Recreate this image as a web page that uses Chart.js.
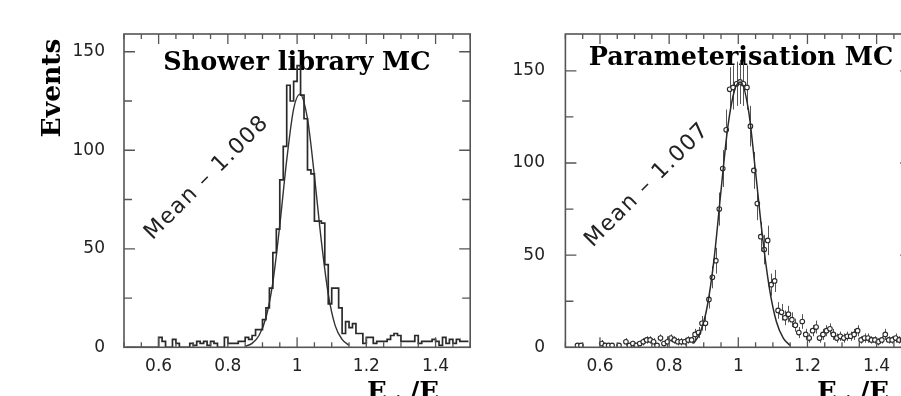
<!DOCTYPE html>
<html><head><meta charset="utf-8">
<script src="https://cdn.jsdelivr.net/npm/chart.js@4.4.1/dist/chart.umd.min.js"></script>
<style>
html,body{margin:0;padding:0;background:#fff;width:901px;height:396px;overflow:hidden;position:relative}
#l{position:absolute;left:0;top:0;width:480px;height:396px}
#r{position:absolute;left:470px;top:0;width:450px;height:396px}
</style></head><body>
<div id="l"><canvas id="cl"></canvas></div>
<div id="r"><canvas id="cr"></canvas></div>
<script>
// ---- data ----
const binCenters = [
0.505,0.515,0.525,0.535,0.545,0.555,0.565,0.575,0.585,0.595,
0.605,0.615,0.625,0.635,0.645,0.655,0.665,0.675,0.685,0.695,
0.705,0.715,0.725,0.735,0.745,0.755,0.765,0.775,0.785,0.795,
0.805,0.815,0.825,0.835,0.845,0.855,0.865,0.875,0.885,0.895,
0.905,0.915,0.925,0.935,0.945,0.955,0.965,0.975,0.985,0.995,
1.005,1.015,1.025,1.035,1.045,1.055,1.065,1.075,1.085,1.095,
1.105,1.115,1.125,1.135,1.145,1.155,1.165,1.175,1.185,1.195,
1.205,1.215,1.225,1.235,1.245,1.255,1.265,1.275,1.285,1.295,
1.305,1.315,1.325,1.335,1.345,1.355,1.365,1.375,1.385,1.395,
1.405,1.415,1.425,1.435,1.445,1.455,1.465,1.475,1.485,1.495];

const showerCounts = [
0,0,0,0,0,0,0,0,0,0,
5,3,0,0,4,2,0,0,0,2,
1,3,2,3,1,3,2,0,0,5,
2,2,2,3,3,5,4,6,9,9,
14,20,30,48,60,85,102,133,125,135,
143,128,116,90,88,64,64,63,42,22,
30,30,20,7,13,10,12,7,7,2,
5,5,2,3,3,3,4,6,7,6,
3,3,3,3,6,2,3,3,3,4,
3,1,5,2,4,2,4,3,3,3];

const paramCounts = [
0,0,0,1,1,0,0,0,0,0,
2,1,1,1,0,1,0,3,1,2,
1,2,3,4,4,3,1,5,2,3,
5,4,3,3,3,4,4,7,8,13,
13,26,38,47,75,97,118,140,141,143,
144,143,141,120,96,78,60,53,58,34,
36,20,19,16,18,15,12,8,14,7,
5,9,11,5,7,9,10,7,5,6,
5,6,6,7,9,4,5,5,4,4,
3,4,7,4,4,5,4,4,3,3];

const paramErrors = [
0,0,0,1,1,0,0,0,0,0,
2,1,1,1,0,1,0,2,1,1.5,
1,1.5,2,2,2,2,1,2,1.5,3,
2,2,2,2,2,2,2,3,3,4,
4,5,6,7,9,10,11,12,12,12,
12,12,12,11,10,9,8,8,8,6,
6,4.5,4.5,4,4.5,4,3.5,3,4,3,
2.5,3,3.5,2.5,3,3,3,3,2.5,2.5,
2.5,2.5,2.5,3,3,2,2.5,2.5,2,2,
2,2,3,2,2,2.5,2,2,2,2];

const showerFitX = [0.85,0.87,0.89,0.91,0.93,0.95,0.97,0.99,1.008,1.03,1.05,1.07,1.09,1.11,1.13,1.15];
const showerFitY = [0.5,2,6,15,33,62,95,121,128.5,116,87,54,27,11,4,1];
const paramFitX = [0.87,0.89,0.91,0.93,0.95,0.97,0.99,1.007,1.03,1.05,1.07,1.09,1.11,1.13,1.15];
const paramFitY = [2,8,22,48,85,120,140,144,128,95,60,32,14,5,1];

const xTickValues = [0.6,0.8,1.0,1.2,1.4];
const xTickLabels = ['0.6','0.8','1','1.2','1.4'];
const xMinorTicks = [0.5,0.55,0.6,0.65,0.7,0.75,0.8,0.85,0.9,0.95,1.0,1.05,1.1,1.15,1.2,1.25,1.3,1.35,1.4,1.45,1.5];
const yTickValues = [0,50,100,150];
const yTickLabels = ['0','50','100','150'];
const yMinorTicks = [0,25,50,75,100,125,150];

const panelTitles = ['Shower library MC','Parameterisation MC'];
const meanLabels = ['Mean \u2013 1.008','Mean \u2013 1.007'];
const yAxisTitle = 'Events';

// ---- plugins ----
const framePlugin = {
  id: 'frame',
  beforeDatasetsDraw(chart, args, o) {
    const {ctx, scales:{x, y}} = chart;
    ctx.save();
    // title
    ctx.fillStyle = '#000';
    ctx.font = 'bold 25.5px "DejaVu Serif"';
    ctx.textAlign = 'center';
    ctx.textBaseline = 'alphabetic';
    ctx.fillText(o.title, o.titleX, o.titleY);
    // y title
    if (o.yTitle) {
      ctx.save();
      ctx.translate(60, 88);
      ctx.rotate(-Math.PI/2);
      ctx.font = 'bold 26.5px "DejaVu Serif"';
      ctx.fillText(o.yTitle, 0, 0);
      ctx.restore();
    }
    // x title (cut at bottom)
    ctx.textAlign = 'left';
    let px = o.xTitleX;
    ctx.font = 'bold 26px "DejaVu Serif"';
    ctx.fillText('E', px, 400); px += ctx.measureText('E').width;
    ctx.font = 'bold 15px "DejaVu Serif"';
    ctx.fillText('vis', px, 406); px += ctx.measureText('vis').width;
    ctx.font = 'bold 26px "DejaVu Serif"';
    ctx.fillText('/E', px, 400);
    // mean label
    ctx.save();
    ctx.translate(x.getPixelForValue(o.meanX), y.getPixelForValue(o.meanY));
    ctx.rotate(-Math.PI/4);
    ctx.font = '22px "DejaVu Sans"';
    try { ctx.letterSpacing = '1.5px'; } catch(e) {}
    ctx.fillStyle = '#222';
    ctx.textAlign = 'center';
    ctx.textBaseline = 'middle';
    ctx.fillText(o.mean, 0, 0);
    ctx.restore();
    // error bars
    if (o.errors) {
      ctx.strokeStyle = '#555';
      ctx.lineWidth = 1;
      ctx.beginPath();
      binCenters.forEach((c, i) => {
        const v = o.values[i], e = o.errors[i];
        if (!v || !e) return;
        const xp = Math.round(x.getPixelForValue(c)) + 0.5;
        ctx.moveTo(xp, y.getPixelForValue(Math.max(0, v - e)));
        ctx.lineTo(xp, y.getPixelForValue(Math.min(y.max, v + e)));
      });
      ctx.stroke();
    }
    ctx.restore();
  },
  afterDatasetsDraw(chart) {
    const {ctx, chartArea:a, scales:{x, y}} = chart;
    ctx.save();
    ctx.strokeStyle = '#555';
    ctx.lineWidth = 1.3;
    ctx.beginPath();
    xMinorTicks.forEach(v => {
      const major = xTickValues.some(t => Math.abs(t - v) < 1e-6);
      const L = major ? 10 : 5;
      const p = x.getPixelForValue(v);
      ctx.moveTo(p, a.bottom); ctx.lineTo(p, a.bottom - L);
      ctx.moveTo(p, a.top); ctx.lineTo(p, a.top + L);
    });
    yMinorTicks.forEach(v => {
      const major = yTickValues.includes(v);
      const L = major ? 11 : 8;
      const p = y.getPixelForValue(v);
      ctx.moveTo(a.left, p); ctx.lineTo(a.left + L, p);
      ctx.moveTo(a.right, p); ctx.lineTo(a.right - L, p);
    });
    ctx.stroke();
    ctx.lineWidth = 1.6;
    ctx.strokeRect(a.left, a.top, a.right - a.left, a.bottom - a.top);
    ctx.restore();
  }
};

function labelFor(values, labels) {
  return v => { const i = values.findIndex(t => Math.abs(t - v) < 1e-6); return i >= 0 ? labels[i] : ''; };
}

function makeChart(id, cfg) {
  return new Chart(document.getElementById(id), {
    type: 'line',
    data: { datasets: cfg.datasets },
    options: {
      responsive: true, maintainAspectRatio: false, animation: false,
      layout: { padding: { left: 0, right: cfg.padRight, top: 34, bottom: 0 } },
      plugins: { legend: { display: false }, tooltip: { enabled: false }, frame: cfg.frame },
      scales: {
        x: {
          type: 'linear', min: 0.5, max: 1.5,
          grid: { display: false, drawTicks: false }, border: { display: false },
          afterFit: s => { s.height = 48.7; },
          afterBuildTicks: s => { s.ticks = xTickValues.map(v => ({ value: v })); },
          ticks: { autoSkip: false, maxRotation: 0, padding: 9, color: '#222',
                   font: { family: 'DejaVu Sans', size: 17 },
                   callback: labelFor(xTickValues, xTickLabels) }
        },
        y: {
          type: 'linear', min: 0, max: cfg.ymax,
          grid: { display: false, drawTicks: false }, border: { display: false },
          afterFit: s => { s.width = cfg.yWidth; },
          afterBuildTicks: s => { s.ticks = yTickValues.map(v => ({ value: v })); },
          ticks: { autoSkip: false, padding: cfg.yPad, color: '#222',
                   font: { family: 'DejaVu Sans', size: 17 },
                   callback: labelFor(yTickValues, yTickLabels) }
        }
      }
    },
    plugins: [framePlugin]
  });
}

makeChart('cl', {
  padRight: 9.8, ymax: 159, yWidth: 124, yPad: 19,
  frame: { title: panelTitles[0], titleX: 297, titleY: 70, yTitle: yAxisTitle,
           xTitleX: 367, mean: meanLabels[0], meanX: 0.74, meanY: 86 },
  datasets: [
    { data: binCenters.map((c, i) => ({ x: c, y: showerCounts[i] })), stepped: 'middle',
      borderColor: '#2a2a2a', borderWidth: 1.7, pointRadius: 0, fill: false },
    { data: showerFitX.map((c, i) => ({ x: c, y: showerFitY[i] })), cubicInterpolationMode: 'monotone',
      borderColor: '#333', borderWidth: 1.4, pointRadius: 0, fill: false }
  ]
});

makeChart('cr', {
  padRight: 8.8, ymax: 170, yWidth: 95.4, yPad: 20.4,
  frame: { title: panelTitles[1], titleX: 271, titleY: 65, yTitle: null,
           xTitleX: 347, mean: meanLabels[1], meanX: 0.737, meanY: 88,
           values: paramCounts, errors: paramErrors },
  datasets: [
    { data: paramFitX.map((c, i) => ({ x: c, y: paramFitY[i] })), cubicInterpolationMode: 'monotone',
      borderColor: '#2a2a2a', borderWidth: 1.5, pointRadius: 0, fill: false },
    { data: binCenters.map((c, i) => ({ x: c, y: paramCounts[i] })).filter(p => p.y > 0), showLine: false,
      pointRadius: 2.3, pointStyle: 'circle', pointBackgroundColor: '#fff',
      pointBorderColor: '#2a2a2a', pointBorderWidth: 1.1 }
  ]
});
</script>
</body></html>
